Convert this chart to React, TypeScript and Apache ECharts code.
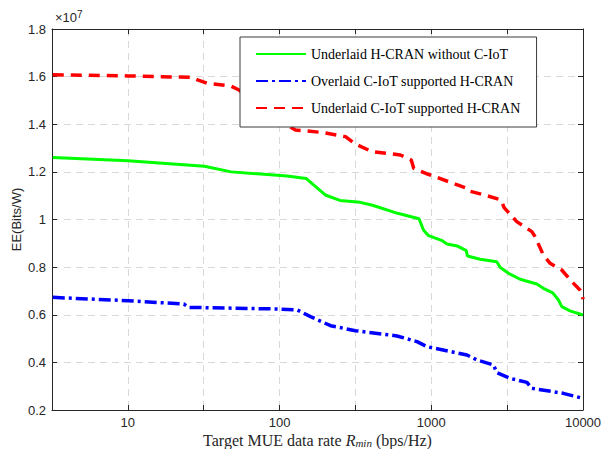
import React, { useEffect, useRef } from "react";
import * as echarts from "echarts";

// Target MUE data rate (bps/Hz) and EE (x10^7 Bits/W)
const greenRates = [3.2, 10, 32, 48, 112, 150, 200, 250, 340, 410, 600, 830, 890, 960, 1180, 1270, 1480, 1700, 1730, 2100, 2700, 2850, 3230, 3850, 4960, 5480, 6320, 6890, 7250, 8200, 10000];
const greenEE = [1.26, 1.247, 1.224, 1.2, 1.183, 1.172, 1.103, 1.08, 1.072, 1.06, 1.026, 1.003, 0.955, 0.932, 0.911, 0.897, 0.889, 0.869, 0.847, 0.833, 0.823, 0.798, 0.774, 0.749, 0.729, 0.711, 0.692, 0.662, 0.634, 0.616, 0.599];

const blueRates = [3.2, 10, 23.4, 25.2, 100, 131, 160, 217, 316, 594, 805, 937, 1718, 2000, 2570, 2705, 3310, 4270, 4590, 7410, 10000];
const blueEE = [0.673, 0.659, 0.645, 0.631, 0.624, 0.62, 0.592, 0.554, 0.533, 0.511, 0.487, 0.466, 0.431, 0.41, 0.389, 0.357, 0.333, 0.316, 0.291, 0.27, 0.249];

const redRates = [3.2, 10, 26, 28.8, 33.4, 47.6, 53.7, 81, 127, 195, 272, 316, 407, 625, 738, 766, 955, 1350, 1700, 1750, 2323, 2884, 3020, 3660, 4600, 4830, 5480, 6070, 7245, 8440, 9550, 9850, 10000];
const redEE = [1.608, 1.603, 1.597, 1.586, 1.572, 1.561, 1.545, 1.45, 1.376, 1.365, 1.348, 1.317, 1.285, 1.271, 1.25, 1.215, 1.19, 1.155, 1.132, 1.121, 1.1, 1.082, 1.05, 0.991, 0.949, 0.928, 0.851, 0.816, 0.788, 0.739, 0.704, 0.69, 0.665];

const seriesNames = [
  "Underlaid H-CRAN without C-IoT",
  "Overlaid C-IoT supported H-CRAN",
  "Underlaid C-IoT supported H-CRAN",
];

const toPts = (rates: number[], ee: number[]) => rates.map((r, i) => [Math.log10(r), ee[i]]);

const AX = "#262626";
const SANS = "Liberation Sans, Arial, sans-serif";
const SERIF = "Liberation Serif, Times New Roman, serif";

export default function App() {
  const ref = useRef<HTMLDivElement>(null);
  useEffect(() => {
    document.body.style.margin = "0";
    const chart = echarts.init(ref.current!, null, { renderer: "svg" });
    const xCommon = {
      type: "value" as const,
      min: 0.5,
      max: 4,
      interval: 0.5,
      axisLine: { show: true, onZero: false, lineStyle: { color: AX, width: 1 } },
      axisTick: { show: true, inside: true, length: 5, lineStyle: { color: AX } },
    };
    const yCommon = {
      type: "value" as const,
      min: 0.2,
      max: 1.8,
      interval: 0.2,
      axisLine: { show: true, onZero: false, lineStyle: { color: AX, width: 1 } },
      axisTick: { show: true, inside: true, length: 5, lineStyle: { color: AX } },
    };
    chart.setOption({
      animation: false,
      backgroundColor: "#ffffff",
      grid: { left: 52, right: 20, top: 29, bottom: 39, show: false, outerBoundsMode: "none", containLabel: false },
      xAxis: [
        {
          ...xCommon,
          position: "bottom",
          axisLabel: {
            color: AX,
            fontFamily: SANS,
            fontSize: 13,
            margin: 6,
            showMinLabel: false,
            formatter: (v: number) => (Math.abs(v - Math.round(v)) < 1e-6 && v >= 1 ? String(Math.round(Math.pow(10, v))) : ""),
          },
          splitLine: { show: true, lineStyle: { color: "#d8d8d8", type: [7, 5], width: 1 } },
          name: "{t|Target MUE data rate }{i|R}{s|min}{t| (bps/Hz)}",
          nameLocation: "middle",
          nameGap: 22,
          nameMoveOverlap: false,
          nameTextStyle: {
            color: AX,
            fontFamily: SERIF,
            fontSize: 16,
            rich: {
              t: { fontFamily: SERIF, fontSize: 16, color: AX, lineHeight: 16 },
              i: { fontFamily: SERIF, fontSize: 16, fontStyle: "italic", color: AX, lineHeight: 16 },
              s: { fontFamily: SERIF, fontSize: 11, fontStyle: "italic", color: AX, lineHeight: 16, verticalAlign: "bottom", padding: [3, 0, 0, 0] },
            },
          },
        },
        {
          ...xCommon,
          position: "top",
          axisLabel: { show: false },
          splitLine: { show: false },
        },
      ],
      yAxis: [
        {
          ...yCommon,
          position: "left",
          axisLabel: {
            color: AX,
            fontFamily: SANS,
            fontSize: 13,
            margin: 6,
            formatter: (v: number) => String(Math.round(v * 10) / 10),
          },
          splitLine: { show: true, lineStyle: { color: "#d8d8d8", type: [7, 5], width: 1 } },
          name: "EE(Bits/W)",
          nameLocation: "middle",
          nameGap: 29,
          nameMoveOverlap: false,
          nameTextStyle: { color: AX, fontFamily: SANS, fontSize: 13 },
        },
        {
          ...yCommon,
          position: "right",
          axisLabel: { show: false },
          splitLine: { show: false },
        },
      ],
      legend: {
        orient: "vertical",
        left: 240,
        top: 37,
        padding: [10, 16, 12, 15],
        itemGap: 13,
        itemWidth: 50,
        itemHeight: 14,
        backgroundColor: "#ffffff",
        borderColor: "#3a3a3a",
        borderWidth: 1,
        borderRadius: 0,
        itemStyle: { color: "transparent", borderColor: "transparent", borderWidth: 0, opacity: 0 },
        textStyle: { color: "#000", fontFamily: SERIF, fontSize: 14 },
        data: seriesNames,
      },
      graphic: [
        {
          type: "text",
          left: 55,
          top: 9,
          style: {
            text: "{a|×10}{b|7}",
            rich: {
              a: { fontFamily: SANS, fontSize: 13, fill: AX, padding: [6, 0, 0, 0] },
              b: { fontFamily: SANS, fontSize: 10, fill: AX },
            },
          },
        },
      ],
      series: [
        {
          name: seriesNames[0],
          type: "line",
          data: toPts(greenRates, greenEE),
          symbol: "none",
          showSymbol: false,
          color: "#00ff00",
          lineStyle: { color: "#00ff00", width: 3 },
          z: 3,
        },
        {
          name: seriesNames[1],
          type: "line",
          data: toPts(blueRates, blueEE),
          symbol: "none",
          showSymbol: false,
          color: "#0000ff",
          lineStyle: { color: "#0000ff", width: 3.5, type: [12, 4, 3, 4] },
          z: 3,
        },
        {
          name: seriesNames[2],
          type: "line",
          data: toPts(redRates, redEE),
          symbol: "none",
          showSymbol: false,
          color: "#ff0000",
          lineStyle: { color: "#ff0000", width: 3.5, type: [11, 7] },
          z: 3,
        },
      ],
    });
    return () => chart.dispose();
  }, []);
  return <div ref={ref} style={{ width: 603, height: 449 }} />;
}
